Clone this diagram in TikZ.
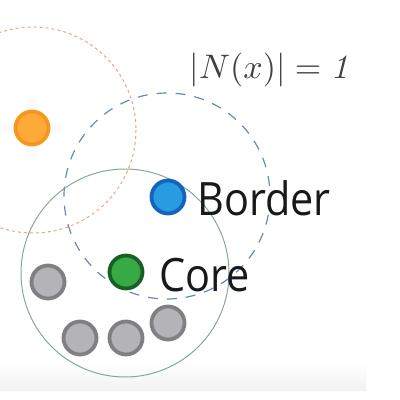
\documentclass[tikz,border=0pt]{standalone}
\usepackage{fontspec}
\setsansfont{Open Sans}
\begin{document}
\begin{tikzpicture}[x=1pt,y=-1pt,
  dot/.style={circle,minimum size=33pt,inner sep=0pt,line width=3.8pt},
  lbl/.style={font=\sffamily\fontsize{46}{50}\selectfont,anchor=base west,inner sep=0pt,xscale=0.9,text=black!90}]
\useasboundingbox (0,0) rectangle (400,400);
\shade[top color=white,bottom color=black!5] (0,362) rectangle (366,390);
% circles
\draw[color={rgb,255:red,235;green,165;blue,125},line width=1pt,dash pattern=on 3pt off 3pt] (33,130) circle[radius=103];
\draw[color={rgb,255:red,105;green,135;blue,185},line width=1.2pt,dash pattern=on 10pt off 9pt] (167,196) circle[radius=103];
\draw[color={rgb,255:red,130;green,170;blue,145},line width=1pt] (125,273) circle[radius=104];
% dots
\node[dot,draw={rgb,255:red,245;green,150;blue,30},fill={rgb,255:red,255;green,170;blue,55}] (o) at (32,128) {};
\node[dot,draw={rgb,255:red,20;green,100;blue,190},fill={rgb,255:red,40;green,155;blue,225}] (b) at (168,197) {};
\node[dot,draw={rgb,255:red,25;green,95;blue,40},fill={rgb,255:red,55;green,170;blue,70}] (c) at (126,272) {};
\node[dot,draw={rgb,255:red,128;green,128;blue,130},fill={rgb,255:red,180;green,180;blue,184}] (g1) at (48,282) {};
\node[dot,draw={rgb,255:red,128;green,128;blue,130},fill={rgb,255:red,180;green,180;blue,184}] (g2) at (80,338) {};
\node[dot,draw={rgb,255:red,128;green,128;blue,130},fill={rgb,255:red,180;green,180;blue,184}] (g3) at (126,338) {};
\node[dot,draw={rgb,255:red,128;green,128;blue,130},fill={rgb,255:red,180;green,180;blue,184}] (g4) at (168,323) {};
% labels
\node[lbl] (bl) at (197,215) {Border};
\node[lbl] (cl) at (159,291) {Core};
\node[anchor=base west,inner sep=0pt,scale=3.4,text=black!75] (f) at (189,78) {$|N(x)| = \mathit{1}$};
\end{tikzpicture}
\end{document}
